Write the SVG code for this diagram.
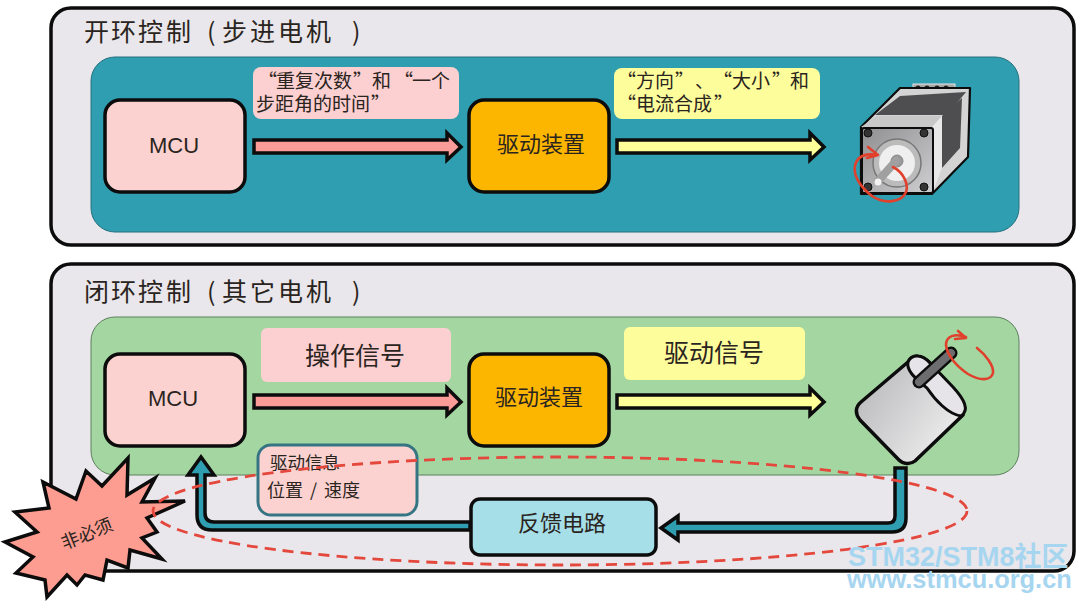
<svg xmlns="http://www.w3.org/2000/svg" width="1080" height="602" viewBox="0 0 1080 602">
<defs>
<style>
text{font-family:"Noto Sans CJK SC","Liberation Sans",sans-serif;fill:#2a2420}
.lat{font-family:"Liberation Sans","Noto Sans CJK SC",sans-serif}
.panel{fill:#e9e7eb;stroke:#0c0c0c;stroke-width:3.5}
.box{stroke:#0c0c0c;stroke-width:3.5}
.pink{fill:#fcd2d0}
.org{fill:#fdb600}
.ctr{text-anchor:middle}
.arr{stroke:#0c0c0c;stroke-width:3.5;stroke-linejoin:miter}
.red{fill:none;stroke:#e0402c;stroke-width:2.6;stroke-linecap:round;stroke-linejoin:round}
.wm{fill:#a6d5f0;font-weight:700}
</style>
<linearGradient id="mg" x1="0" y1="0" x2="1" y2="1"><stop offset="0" stop-color="#8f8f92"/><stop offset="1" stop-color="#cfcfd1"/></linearGradient>
<linearGradient id="cy" x1="0" y1="0" x2="1" y2="0.7"><stop offset="0" stop-color="#b2b2b4"/><stop offset="1" stop-color="#eeeeef"/></linearGradient>
</defs>

<g id="panel-open"><rect class="panel" x="51" y="8" width="1023" height="237" rx="20"/><text y="41" font-size="25" x="84 111 138 166 207 222 250 278 306 352">开环控制(步进电机)</text></g>
<rect x="91" y="57" width="928" height="175" rx="24" fill="#2f9eb0" stroke="#25707f" stroke-width="1"/>
<g id="panel-closed"><rect class="panel" x="51" y="264" width="1023" height="307" rx="20"/><text y="301" font-size="25" x="84 111 138 166 207 222 250 278 306 352">闭环控制(其它电机)</text></g>
<rect x="91" y="317" width="928" height="158" rx="24" fill="#a4d6a2" stroke="#5c7f5c" stroke-width="1"/>

<g id="connectors">
<polygon class="arr" fill="#fb9c98" points="254,140 447,140 447,133 461,147 447,160 447,153 254,153"/>
<polygon class="arr" fill="#ffff99" points="617,140 810,140 810,133 824,147 810,160 810,153 617,153"/>
<polygon class="arr" fill="#fb9c98" points="254,395 447,395 447,388 461,402 447,415 447,408 254,408"/>
<polygon class="arr" fill="#ffff99" points="617,395 810,395 810,388 824,402 810,415 810,408 617,408"/>
<path class="arr" fill="#2f9eb0" d="M895,468H906V518Q906,532 892,532H678V540L661,528L678,516V523H888Q895,523 895,516Z"/>
<path class="arr" fill="#2f9eb0" d="M470,522H214Q205,522 205,513V475H214L201,457L188,475H197V515Q197,530 212,530H470Z"/>
</g>

<g id="label-repeat"><rect x="253" y="67" width="206" height="52" rx="8" fill="#fccfd0"/><text y="88" font-size="19" x="258 276 295 314 333 353 372 394 412 431">“重复次数”和“一个</text><text y="111" font-size="19" x="256 275 294 313 332 351 371">步距角的时间”</text></g>
<g id="label-direction"><rect x="614" y="68" width="206" height="51" rx="8" fill="#fdfd9c"/><text y="88" font-size="19" x="617 636 655 675 695 713 732 751 772 790">“方向”、“大小”和</text><text y="111" font-size="19" x="617 636 655 674 693 714">“电流合成”</text></g>
<g id="label-operate"><rect x="261" y="328" width="190" height="54" rx="6" fill="#fccfd0"/><text x="355" y="365" font-size="25" class="ctr">操作信号</text></g>
<g id="label-drive"><rect x="624" y="327" width="181" height="53" rx="6" fill="#fdfd9c"/><text x="714" y="362" font-size="25" class="ctr">驱动信号</text></g>

<g id="mcu-1"><rect class="box pink" x="105" y="100" width="140" height="92" rx="15"/><text class="lat ctr" x="174" y="153" font-size="22">MCU</text></g>
<g id="driver-1"><rect class="box org" x="469" y="100" width="140" height="92" rx="15"/><text class="ctr" x="541" y="152" font-size="22">驱动装置</text></g>
<g id="mcu-2"><rect class="box pink" x="105" y="354" width="140" height="92" rx="15"/><text class="lat ctr" x="173" y="406" font-size="22">MCU</text></g>
<g id="driver-2"><rect class="box org" x="469" y="354" width="140" height="92" rx="15"/><text class="ctr" x="539" y="405" font-size="22">驱动装置</text></g>

<g id="stepper">
<rect x="913" y="84" width="42" height="9" fill="#a8a8a8" stroke="#e4e4e4" stroke-width="1"/>
<g fill="#222"><circle cx="918" cy="88" r="2.6"/><circle cx="927" cy="88" r="2.6"/><circle cx="937" cy="88" r="2.6"/><circle cx="946" cy="88" r="2.6"/></g>
<polygon fill="#d4d4d4" stroke="#0c0c0c" stroke-width="2.2" stroke-linejoin="round" points="861,127 900,88 970,88 968,157 932,194 861,194"/>
<polygon fill="#4e4e50" points="875,115 900,96 966,92 947,115"/>
<polygon fill="#c8c8c8" points="861,127 877,116 942,116 932,127"/>
<polygon fill="#e8e8e8" points="932,127 942,116 942,168 932,194"/>
<polygon fill="#4e4e50" points="942,116 962,98 960,148 942,168"/>
<rect x="862" y="128" width="71" height="65" fill="url(#mg)" stroke="#0c0c0c" stroke-width="2" rx="2"/>
<g fill="#333" stroke="#111" stroke-width="1"><circle cx="868" cy="133" r="4"/><circle cx="924" cy="133" r="4"/><circle cx="868" cy="187" r="4"/><circle cx="924" cy="187" r="4"/></g>
<circle cx="897" cy="163" r="24" fill="#bbb" stroke="#777" stroke-width="1.5"/>
<circle cx="897" cy="163" r="18" fill="#efefef"/>
<circle cx="897" cy="161" r="6" fill="#999" stroke="#888"/>
<path d="M896,161L878,181" stroke="#a0a0a0" stroke-width="8" stroke-linecap="round"/>
<circle cx="878" cy="182" r="3.5" fill="#f2f2f2"/>
<path class="red" d="M893,167C903,172 909,184 906,192C902,202 885,205 872,196C860,187 853,175 855,166C857,156 866,153 878,155M868,147L878,155L867,158"/>
</g>

<g id="motor">
<path d="M908,362L861,402C855,407 855,414 860,420L899,460C903,464 910,465 915,461L963,415L930,363C922,354 912,354 908,362Z" fill="url(#cy)" stroke="#0c0c0c" stroke-width="3.5" stroke-linejoin="round"/>
<path d="M908,362C912,354 922,354 930,363L953,387C964,399 970,410 961,416C948,414 935,400 927,388C918,380 906,372 908,362Z" fill="#e6e4e8" stroke="#0c0c0c" stroke-width="3" stroke-linejoin="round"/>
<path d="M919,382L951,353" stroke="#0c0c0c" stroke-width="13" stroke-linecap="round"/>
<path d="M919,382L951,353" stroke="#6d6d6f" stroke-width="8" stroke-linecap="round"/>
<path class="red" d="M977,348C986,355 994,366 993,373C991,381 980,381 968,374C956,366 947,355 946,345C946,336 955,333 966,337M958,331L966,338L955,339"/>
</g>

<g id="feedback"><rect class="box" fill="#a6dfe8" x="471" y="499" width="185" height="56" rx="9"/><text class="ctr" x="562" y="531" font-size="22">反馈电路</text></g>

<g id="info"><rect x="258" y="445" width="159" height="70" rx="13" fill="#fcd2d0" stroke="#357583" stroke-width="3"/><text x="270" y="469" font-size="17.5">驱动信息</text><text y="497" font-size="18" x="267 285 310 324 342">位置/速度</text></g>

<g id="burst"><polygon points="5,542 37,532 15,512 49,508 43,482 76,499 86,471 102,486 128,458 127,495 155,478 142,502 185,501 147,518 157,532 142,538 162,559 130,550 128,568 107,560 103,580 85,575 77,585 67,575 47,597 45,580 16,573 33,557" fill="#fd9c90" stroke="#0c0c0c" stroke-width="3.5" stroke-linejoin="miter"/><text class="ctr" x="87" y="540" font-size="18" transform="rotate(-22 87 534)">非必须</text></g>

<g id="dashed"><ellipse cx="560" cy="511" rx="407" ry="54" fill="none" stroke="#e4483c" stroke-width="2.8" stroke-dasharray="11 7"/></g>

<g id="watermark"><text class="lat wm" x="848" y="566" font-size="27">STM32/STM8社区</text><text class="lat wm" x="847" y="588" font-size="25.4">www.stmcu.org.cn</text></g>
</svg>
